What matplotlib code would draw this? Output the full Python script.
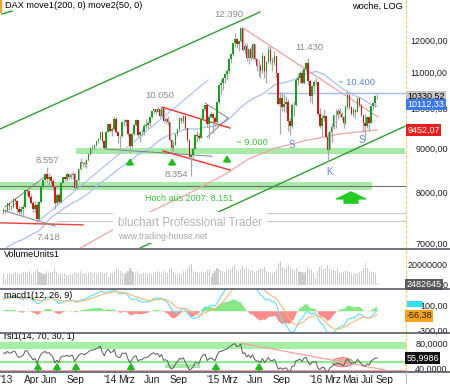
import numpy as np
import pandas as pd
import matplotlib
matplotlib.use('Agg')
import matplotlib.pyplot as plt
from matplotlib.patches import Ellipse, Rectangle
from matplotlib.lines import Line2D
from matplotlib.ticker import NullLocator, NullFormatter

plt.rcParams['font.family'] = ['Liberation Sans', 'DejaVu Sans']

# DAX Wochenschluss 2012 (nur Vorlauf fuer MA / MACD / RSI)
hist_close = [6057, 6143, 6404, 6512, 6692, 6692, 6849, 6865, 6921, 6880,
              7157, 6996, 6947, 6775, 6583, 6801, 6762, 6561, 6579, 6271,
              6339, 5978, 6131, 6230, 6263, 6416, 6410, 6558, 6630, 6690,
              6865, 6945, 7040, 6972, 6970, 7214, 7412, 7451, 7216, 7398,
              7233, 7380, 7203, 7364, 7163, 6950, 7309, 7406, 7518, 7597]

# sichtbare Kerzen: 21.12.2012 bis 05.08.2016 (Woche)
c_2012 = [7636, 7612]
h_2012 = [7680, 7660]
l_2012 = [7570, 7580]
v_2012 = [12, 6]

c_2013 = [7776, 7715, 7702, 7858, 7833, 7652, 7593, 7662, 7708, 8058,
          8043, 7913, 7795, 7659, 7745, 7459, 7814, 8122, 8278, 8399,
          8305, 8349, 8255, 8128, 7789, 7959, 7807, 8212, 8331, 8300,
          8410, 8338, 8391, 8416, 8103, 8276, 8510, 8675, 8666, 8623,
          8725, 8869, 9011, 9009, 9078, 9168, 9226, 9405, 9172, 9006,
          9400, 9589]
h_2013 = [7778, 7790, 7730, 7880, 7871, 7850, 7720, 7730, 7760, 8060,
          8075, 8050, 7965, 7830, 7820, 7790, 7830, 8125, 8290, 8420,
          8557, 8420, 8390, 8290, 8140, 8000, 8000, 8230, 8340, 8350,
          8420, 8440, 8420, 8470, 8440, 8290, 8520, 8770, 8690, 8700,
          8740, 8890, 9030, 9070, 9090, 9180, 9240, 9410, 9410, 9200,
          9420, 9610]
l_2013 = [7600, 7640, 7650, 7680, 7770, 7580, 7560, 7550, 7520, 7680,
          7960, 7870, 7770, 7600, 7580, 7420, 7450, 7780, 8100, 8260,
          8230, 8150, 8180, 8050, 7660, 7750, 7780, 7790, 8200, 8250,
          8250, 8300, 8290, 8290, 8050, 8080, 8260, 8490, 8560, 8570,
          8550, 8710, 8850, 8900, 8970, 9060, 9130, 9200, 9150, 8990,
          9000, 9390]
v_2013 = [11, 12, 11, 12, 13, 12, 11, 12, 13, 13, 12, 14, 11, 13, 14,
          16, 13, 12, 11, 11, 14, 12, 12, 13, 17, 13, 11, 12, 11, 12,
          10, 10, 10, 11, 13, 12, 12, 14, 12, 12, 11, 12, 13, 11, 12,
          11, 11, 13, 12, 12, 13, 8]

c_2014 = [9435, 9473, 9742, 9392, 9306, 9290, 9663, 9657, 9692, 9351,
          9056, 9343, 9588, 9695, 9315, 9409, 9401, 9556, 9581, 9630,
          9769, 9943, 9987, 9913, 9987, 9816, 10009, 9666, 9720, 9644,
          9210, 9010, 9092, 9339, 9470, 9747, 9691, 9799, 9490, 9195,
          8788, 8850, 8988, 9326, 9291, 9252, 9732, 9980, 10087, 9594,
          9787, 9865]
h_2014 = [9620, 9530, 9795, 9780, 9420, 9330, 9670, 9720, 9720, 9700,
          9370, 9380, 9600, 9720, 9700, 9420, 9470, 9600, 9720, 9680,
          9780, 9950, 10000, 10000, 10050, 9990, 10030, 10010, 9780, 9800,
          9650, 9220, 9180, 9360, 9480, 9760, 9770, 9830, 9820, 9500,
          9220, 8900, 9000, 9340, 9420, 9380, 9760, 9990, 10090, 10050,
          9830, 9950]
l_2014 = [9390, 9310, 9450, 9370, 9140, 9000, 9270, 9560, 9550, 9300,
          8900, 9000, 9330, 9550, 9300, 9160, 9300, 9330, 9480, 9500,
          9560, 9760, 9880, 9860, 9900, 9760, 9790, 9640, 9590, 9580,
          9170, 8900, 8940, 9100, 9300, 9440, 9620, 9630, 9450, 9150,
          8750, 8354, 8750, 8980, 9150, 9200, 9240, 9730, 9930, 9520,
          9220, 9780]
v_2014 = [11, 12, 13, 17, 15, 14, 12, 11, 12, 14, 17, 14, 13, 12, 14,
          11, 11, 12, 12, 11, 12, 11, 12, 13, 14, 13, 11, 14, 12, 12,
          16, 17, 13, 11, 11, 12, 11, 14, 13, 16, 20, 21, 14, 13, 12,
          11, 13, 12, 13, 15, 16, 8]

c_2015 = [9765, 9648, 10168, 10649, 10694, 10846, 10963, 11051, 11402, 11551,
          11901, 12040, 11868, 11967, 12375, 11689, 11811, 11454, 11709, 11447,
          11864, 11413, 11197, 11197, 11041, 11492, 11059, 11316, 11673, 11347,
          11308, 11490, 10985, 10124, 10298, 10038, 10123, 10188, 9688, 9553,
          10097, 10104, 10795, 10850, 10988, 10708, 11119, 11293, 10752, 10340,
          10608, 10727, 10743]
h_2015 = [9880, 9800, 10200, 10660, 10810, 10860, 11000, 11100, 11420, 11580,
          11920, 12220, 12070, 12000, 12390, 12380, 11900, 11920, 11730, 11800,
          11920, 11860, 11440, 11370, 11260, 11620, 11520, 11350, 11800, 11800,
          11480, 11670, 11500, 10990, 10450, 10460, 10400, 10350, 10250, 9760,
          10140, 10200, 10850, 10950, 11050, 11080, 11150, 11310, 11430, 10820,
          10640, 10780, 10860]
l_2015 = [9380, 9550, 9580, 10130, 10400, 10500, 10700, 10800, 10980, 11300,
          11500, 11780, 11750, 11660, 11950, 11650, 11550, 11360, 11270, 11380,
          11400, 11350, 11050, 10920, 10850, 11000, 10840, 10700, 11290, 11250,
          11050, 11230, 10850, 10100, 9338, 9950, 9900, 9900, 9430, 9325,
          9500, 9800, 10080, 10650, 10700, 10680, 10680, 11060, 10650, 10190,
          10120, 10460, 10650]
v_2015 = [12, 14, 17, 16, 15, 14, 13, 14, 15, 16, 18, 20, 15, 14, 16,
          19, 16, 17, 16, 14, 15, 13, 14, 15, 17, 16, 18, 14, 13, 12,
          12, 13, 15, 22, 24, 18, 16, 17, 20, 18, 16, 15, 17, 14, 13,
          13, 12, 13, 18, 16, 15, 12, 7]

c_2016 = [9849, 9546, 9764, 9799, 9286, 8967, 9388, 9513, 9824, 9831,
          9950, 9851, 9794, 9622, 10051, 10373, 10039, 9870, 9952, 9916,
          10287, 10103, 9834, 9631, 9558, 9776, 9629, 10066, 10147, 10337,
          10330.52]
h_2016 = [10490, 10020, 9850, 9990, 9830, 9400, 9440, 9630, 9830, 9990,
          10020, 10010, 9900, 9800, 10090, 10490, 10390, 10060, 10050, 10000,
          10290, 10320, 10120, 9840, 9860, 9800, 9790, 10080, 10170, 10370,
          10400]
l_2016 = [9820, 9500, 9310, 9680, 9250, 8699, 8950, 9150, 9480, 9500,
          9730, 9770, 9700, 9490, 9600, 10000, 10000, 9830, 9790, 9760,
          9900, 10050, 9800, 9410, 9214, 9500, 9420, 9620, 9960, 10050,
          10260]
v_2016 = [14, 18, 19, 16, 17, 20, 16, 14, 15, 14, 17, 12, 12, 13, 14,
          14, 13, 12, 11, 12, 12, 13, 14, 17, 22, 17, 14, 13, 13, 12, 2.482645]

# 200er Durchschnitt
ma200_pos = [26.6, 51.9, 72.1, 92.4, 110.1, 122.0, 135.0, 150.0, 168.0, 187.0]
ma200_val = [6700, 7220, 7600, 8000, 8400, 8750, 9000, 9180, 9350, 9452.07]

# Achsenbeschriftung unten
tick_dates = ['2013-01-01', '2013-04-01', '2013-06-01', '2013-09-01', '2014-01-01',
              '2014-03-01', '2014-06-01', '2014-09-01', '2015-01-01', '2015-03-01',
              '2015-06-01', '2015-09-01', '2016-01-01', '2016-03-01', '2016-05-01',
              '2016-07-01', '2016-09-01']
tick_labels = ["'13", 'Apr', 'Jun', 'Sep', "'14", 'Mrz', 'Jun', 'Sep', "'15", 'Mrz',
               'Jun', 'Sep', "'16", 'Mrz', 'Mai', 'Jul', 'Sep']

# Einzeichnungen (Woche, Kurs)
chan_up = ([-3.74, 127.8], [9474, 12926])
chan_low = ([67.1, 201.1], [6908, 9545])
blue_trend = ([13.96, 101.5], [7362, 10791])
red_2013 = ([-3.74, 38.2], [7385, 7346])
tri_up = ([-1.2, 20.0], [7702, 8386])
tri_low = ([-1.2, 24.1], [7621, 7323])
wedge_up = ([78.2, 112.6], [10044, 9499])
wedge_low = ([78.7, 112.6], [8938, 8497])
diamond_up = ([100.0, 111.6], [10152, 9755])
diamond_low = ([101.0, 111.6], [9275, 9755])
support_2014 = ([49.4, 103.5], [8985, 8814])
down_2015 = ([119.2, 187.5], [12390, 9781])

# ------------------------------------------------------------------
closes = np.array(c_2012 + c_2013 + c_2014 + c_2015 + c_2016, dtype=float)
highs = np.array(h_2012 + h_2013 + h_2014 + h_2015 + h_2016, dtype=float)
lows = np.array(l_2012 + l_2013 + l_2014 + l_2015 + l_2016, dtype=float)
vols = np.array(v_2012 + v_2013 + v_2014 + v_2015 + v_2016) * 1e6
opens = np.concatenate([[hist_close[-1]], closes[:-1]])
highs = np.maximum(highs, np.maximum(opens, closes))
lows = np.minimum(lows, np.minimum(opens, closes))
n = len(closes)
pos = np.arange(n) - 2          # 0 = Woche bis 04.01.2013

full = pd.Series(hist_close + list(closes))
ma50 = full.rolling(50).mean().values[-n:]
ema12 = full.ewm(span=12, adjust=False).mean()
ema26 = full.ewm(span=26, adjust=False).mean()
macd = ema12 - ema26
signal = macd.ewm(span=9, adjust=False).mean()
macd_hist = (macd - signal).values[-n:]
macd = macd.values[-n:]
signal = signal.values[-n:]
delta = full.diff()
gain = delta.clip(lower=0).ewm(alpha=1 / 14, adjust=False).mean()
loss = (-delta.clip(upper=0)).ewm(alpha=1 / 14, adjust=False).mean()
rsi = (100 - 100 / (1 + gain / loss)).values[-n:]

t0 = pd.Timestamp('2013-01-04')
tick_pos = [(pd.Timestamp(d) - t0).days / 7 for d in tick_dates]

W, H = 450, 384
XLIM = (-3.74, 201.6)


def px_box(x0, y0, x1, y1):
    return [x0 / W, 1 - y1 / H, (x1 - x0) / W, (y1 - y0) / H]


fig = plt.figure(figsize=(4.5, 3.84), dpi=100)
ax = fig.add_axes(px_box(0, 0, 406, 248))
axv = fig.add_axes(px_box(0, 249, 406, 288))
axm = fig.add_axes(px_box(0, 289, 406, 332))
axr = fig.add_axes(px_box(0, 333, 406, 371))

for a in (ax, axv, axm, axr):
    for s in ('top', 'bottom', 'left'):
        a.spines[s].set_visible(False)
    a.spines['right'].set_color('#f0d070')
    a.spines['right'].set_linestyle((0, (2, 2)))
    a.spines['right'].set_linewidth(0.9)
    a.yaxis.set_ticks_position('right')
    a.tick_params(axis='y', length=0, pad=30, labelsize=6.5, labelcolor='#202020')
    a.tick_params(axis='x', length=0, labelbottom=False)
    a.set_xlim(*XLIM)

GREEN = '#1c9e1c'
RED = '#d01818'
BAND = '#a8eaa8'

# ---------------- Hauptchart ----------------
ax.set_yscale('log')
ax.set_ylim(6908, 13345)
ax.yaxis.set_minor_locator(NullLocator())
ax.yaxis.set_minor_formatter(NullFormatter())
ax.set_yticks([7000, 8000, 9000, 10000, 11000, 12000],
              ['7000,00', '8000,00', '9000,00', '10000,00', '11000,00', '12000,00'], ha='right')

ax.fill_between([-3.74, 184.4], 8058, 8231, color=BAND, lw=0, zorder=1)
ax.plot([-3.74, 201.1], [8151, 8151], color='#707070', lw=0.8, zorder=1.2)
ax.fill_between([34.7, 201.1], 8860, 9010, color=BAND, lw=0, zorder=1)
ax.plot([25.1, 201.1], [7580, 7580], color='#c8c8c8', lw=0.8, zorder=1)
ax.plot([25.1, 201.1], [7418, 7418], color='#c8c8c8', lw=0.8, zorder=1)

ax.plot(*chan_up, color='#2e9e2e', lw=1.0, zorder=1.5)
ax.plot(*chan_low, color='#2e9e2e', lw=1.0, zorder=1.5)
ax.plot(*blue_trend, color='#a9bff5', lw=0.8, zorder=1.5)
ax.plot(pos, ma50, color='#a9bff5', lw=0.9, zorder=1.5)
ax.plot(ma200_pos, ma200_val, color='#f5a3a3', lw=0.9, zorder=1.5)
ax.plot(*red_2013, color='#f04040', lw=1.0, zorder=1.5)
for seg in (tri_up, tri_low, diamond_up, diamond_low, support_2014):
    ax.plot(*seg, color='#808080', lw=0.7, zorder=1.5)
ax.plot(*wedge_up, color='#f03030', lw=1.0, zorder=1.5)
ax.plot(*wedge_low, color='#f03030', lw=1.0, zorder=1.5)
ax.plot(*down_2015, color='#f4a0a0', lw=0.9, zorder=1.5)
ax.plot([131.8, 201.6], [10420, 10420], color='#9db8f5', lw=1.0, zorder=1.5)

# Kerzen
ax.vlines(pos, lows, highs, color='#a8a8a8', lw=0.9, zorder=2)
up = closes >= opens
ax.bar(pos, np.abs(closes - opens), bottom=np.minimum(opens, closes), width=0.8,
       color=np.where(up, GREEN, RED), lw=0, zorder=3)

txt = dict(fontsize=6.8, color='#8a8a8a', ha='center', va='center', zorder=4)
ax.text(111.8, 12824, '12.390', **txt)
ax.text(152.8, 11779, '11.430', **txt)
ax.text(77.0, 10369, '10.050', **txt)
ax.text(20.3, 8719, '8.557', **txt)
ax.text(85.3, 8394, '8.354', **txt)
ax.text(20.5, 7109, '7.418', **txt)
ax.text(176.8, 10734, '~ 10.400', fontsize=6.8, color='#5a86e8', ha='center', va='center')
ax.text(123.7, 9131, '~ 9.000', fontsize=6.8, color='#36c236', ha='center', va='center')
ax.text(69.6, 7876, 'Hoch aus 2007: 8.151', fontsize=6.5, color='#36c236', ha='left', va='center')
for p, v, s in ((143.9, 9077, 'S'), (179.4, 9202, 'S'), (162.7, 8455, 'K')):
    ax.text(p, v, s, fontsize=7, color='#5a86e8', ha='center', va='center')

for p, top, bot in ((62.0, 8770, 8608), (83.3, 8770, 8608), (111.1, 8841, 8676)):
    ax.annotate('', xy=(p, top), xytext=(p, bot),
                arrowprops=dict(arrowstyle='-|>,head_length=0.35,head_width=0.22', color='#22bb22',
                                lw=1.3, shrinkA=0, shrinkB=0, mutation_scale=10))
ax.annotate('', xy=(173.8, 8016), xytext=(173.8, 7782),
            arrowprops=dict(arrowstyle='simple,head_length=0.5,head_width=2.1,tail_width=1.0',
                            color='#22cc22', shrinkA=0, shrinkB=0, mutation_scale=10))

ax.text(55.9, 7378, 'bluchart Professional Trader', fontsize=8.3, color='#b4b4b4',
        ha='left', va='center', zorder=5,
        bbox=dict(boxstyle='square,pad=0.45', fc='white', ec='none'))
ax.text(55.9, 7128, 'www.trading-house.net', fontsize=6.3, color='#a8a8a8',
        ha='left', va='center', zorder=5,
        bbox=dict(boxstyle='square,pad=0.3', fc='white', ec='none'))

yt = ax.get_yaxis_transform()
box_x = 407.5 / 406
ax.text(box_x, 10330.52, '10330,52', transform=yt, ha='left', va='center', fontsize=6.5,
        color='black', zorder=6, bbox=dict(boxstyle='square,pad=0.15', fc='#c6c6c6', ec='none'))
ax.text(box_x, 10112.33, '10112,33', transform=yt, ha='left', va='center', fontsize=6.5,
        color='white', zorder=6, bbox=dict(boxstyle='square,pad=0.15', fc='#3c7af2', ec='none'))
ax.text(box_x, 9452.07, '9452,07', transform=yt, ha='left', va='center', fontsize=6.5,
        color='white', zorder=6, bbox=dict(boxstyle='square,pad=0.15', fc='#ee1c1c', ec='none'))

fig.text(5 / W, 1 - 6 / H, 'DAX move1(200, 0) move2(50, 0)', fontsize=6.6, va='center', ha='left')
fig.text(403 / W, 1 - 6 / H, 'woche, LOG', fontsize=6.6, va='center', ha='right')
fig.add_artist(Rectangle((0, 1 - 13 / H), 2 / W, 13 / H, transform=fig.transFigure,
                         color='#f0a030', lw=0))
fig.add_artist(Line2D([2 / W, 12 / W], [1 - 14 / H, 1 - 11 / H], color=GREEN, lw=1))

# ---------------- Volumen ----------------
axv.bar(pos, vols, width=0.55, color='#cccccc', lw=0)
axv.set_ylim(-3e6, 36e6)
axv.set_yticks([0, 20e6], ['0', '20000000'], ha='right')
axv.text(0.01, 0.86, 'VolumeUnits1', transform=axv.transAxes, fontsize=6.5, va='center')
axv.text(406.5 / 406, 0.5e6, '2482645', transform=axv.get_yaxis_transform(), ha='left',
         va='center', fontsize=6.5, color='white',
         bbox=dict(boxstyle='square,pad=0.15', fc='#5a5a5a', ec='none'))

# ---------------- MACD ----------------
axm.fill_between(pos, macd_hist, 0, where=macd_hist >= 0, interpolate=True, color='#86e886', lw=0)
axm.fill_between(pos, macd_hist, 0, where=macd_hist < 0, interpolate=True, color='#ff8c8c', lw=0)
axm.plot(pos, macd, color='#5ee0f2', lw=0.8)
axm.plot(pos, signal, color='#f8b878', lw=0.8)
axm.set_ylim(-332, 356)
axm.set_yticks([100, -300], ['100,00', '-300,00'], ha='right')
axm.text(0.01, 0.84, 'macd1(12, 26, 9)', transform=axm.transAxes, fontsize=6.5, va='center')
fig.add_artist(Rectangle((407 / W, 1 - 307 / H), 16 / W, 6 / H, transform=fig.transFigure,
                         color='#36e0f0', lw=0, zorder=0))
axm.text(406.5 / 406, 0.38, '-56,38', transform=axm.transAxes, ha='left', va='center',
         fontsize=6.5, color='#202020',
         bbox=dict(boxstyle='square,pad=0.15', fc='#f7a31c', ec='none'))

# ---------------- RSI ----------------
axr.axhspan(70, 82, color='#a6f0a6', lw=0)
axr.axhline(50, color='#90e890', lw=1.6)
axr.axhspan(35, 37.2, color='#ffa0a0', lw=0)
axr.add_patch(Rectangle((79.7, 40), 17.7, 6.7, color='#a6e8a6', lw=0))
axr.add_patch(Ellipse((169.5, 49.2), 10.6, 15, fc='#f49090', ec='#e06060', lw=0.6, alpha=0.8))
axr.plot([118.7, 191.0], [80, 36.7], color='#f4a0a0', lw=0.9)
axr.plot(pos, rsi, color='#5a5a5a', lw=0.7)
for p in (15.5, 25.1, 34.7, 62.5, 105.5, 127.3):
    axr.annotate('', xy=(p, 48.5), xytext=(p, 35.5),
                 arrowprops=dict(arrowstyle='-|>,head_length=0.35,head_width=0.22', color='#22bb22',
                                 lw=1.3, shrinkA=0, shrinkB=0, mutation_scale=10))
axr.set_ylim(35, 96.7)
axr.set_yticks([80, 40], ['80,0000', '40,0000'], ha='right')
axr.text(0.01, 0.92, 'rsi1(14, 70, 30, 1)', transform=axr.transAxes, fontsize=6.5, va='center')
axr.text(406.5 / 406, 55.9986, '55,9986', transform=axr.get_yaxis_transform(), ha='left',
         va='center', fontsize=6.5, color='white',
         bbox=dict(boxstyle='square,pad=0.15', fc='#111111', ec='none'))
axr.set_xticks(tick_pos, tick_labels)
axr.tick_params(axis='x', labelbottom=True, length=0, pad=3, labelsize=7.3, labelcolor='#202020')

# Trennlinien
for yp in (248.5, 288.5, 332.5, 371.5):
    fig.add_artist(Line2D([0, 1], [1 - yp / H, 1 - yp / H], color='#4c4c5c', lw=1.1))
fig.add_artist(Line2D([406 / W, 406 / W], [0, 1 - 372 / H], color='#c0c0c0', lw=0.8))

fig.savefig('out.png', dpi=100)
